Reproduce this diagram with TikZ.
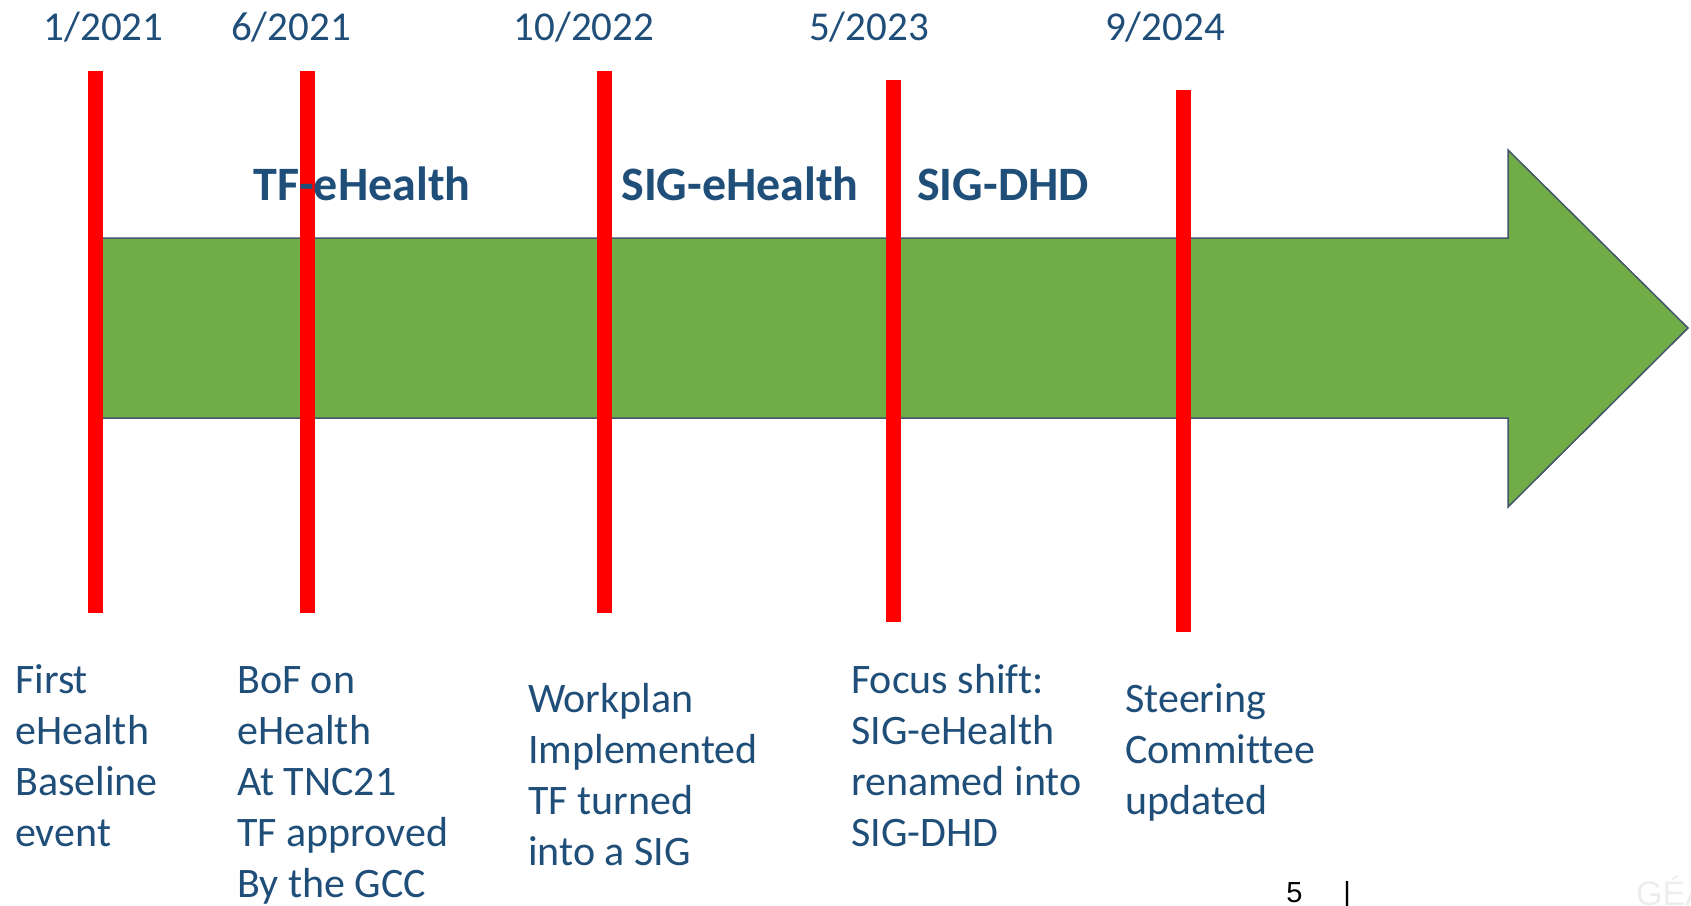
\documentclass[tikz,border=0pt]{standalone}
\usepackage{fontspec}
\setmainfont[Ligatures={NoCommon}]{Carlito}
\newfontfamily\arialfont{Liberation Sans}
\definecolor{txtblue}{HTML}{1F4E79}
\definecolor{arrgreen}{HTML}{70AD47}
\definecolor{arredge}{HTML}{44546A}
\definecolor{barred}{HTML}{FF0000}
\tikzset{
  datelabel/.style={anchor=base, inner sep=0pt, text=txtblue, font=\fontsize{41}{50}\selectfont},
  phaselabel/.style={anchor=base, inner sep=0pt, text=txtblue, font=\fontsize{48}{58}\selectfont\bfseries},
  eventtext/.style={anchor=base west, inner sep=0pt, align=left, text=txtblue, font=\fontsize{42}{51}\selectfont},
  redbar/.style={draw=none, fill=barred},
  bigarrow/.style={fill=arrgreen, draw=arredge, line width=1.5pt, line join=miter},
}
\begin{document}
\begin{tikzpicture}[x=1pt,y=-1pt]
\useasboundingbox (0,0) rectangle (1691,905);
% big arrow
\draw[bigarrow] (99,238) -- (1508,238) -- (1508,150) -- (1688,328) -- (1508,507) -- (1508,418) -- (99,418) -- cycle;
% red bars
\fill[redbar] (87.5,71) rectangle (102.5,613);
\fill[redbar] (299.5,71) rectangle (314.5,613);
\fill[redbar] (596.5,71) rectangle (611.5,613);
\fill[redbar] (885.5,80) rectangle (900.5,622);
\fill[redbar] (1175.5,90) rectangle (1190.5,632);
% dates
\node[datelabel] (d1) at (103.5,40) {1/2021};
\node[datelabel] (d2) at (291,40) {6/2021};
\node[datelabel] (d3) at (584,40) {10/2022};
\node[datelabel] (d4) at (869,40) {5/2023};
\node[datelabel] (d5) at (1165,40) {9/2024};
% phases
\node[phaselabel] (p1) at (362,200) {TF-eHealth};
\node[phaselabel] (p2) at (740,200) {SIG-eHealth};
\node[phaselabel] (p3) at (1003,200) {SIG-DHD};
% events (anchored at the baseline of the last line)
\node[eventtext] (e1) at (15,846) {First\\eHealth\\Baseline\\event};
\node[eventtext] (e2) at (237,897) {BoF on\\eHealth\\At TNC21\\TF approved\\By the GCC};
\node[eventtext] (e3) at (528,865) {Workplan\\Implemented\\TF turned\\into a SIG};
\node[eventtext] (e4) at (851,846) {Focus shift:\\SIG-eHealth\\renamed into\\SIG-DHD};
\node[eventtext] (e5) at (1125,814) {Steering\\Committee\\updated};
% page number
\node[anchor=base, inner sep=0pt, font=\arialfont\fontsize{29}{34}\selectfont] (pg) at (1294.5,902) {5};
\node[anchor=base, inner sep=0pt, font=\arialfont\fontsize{29}{34}\selectfont] (sep) at (1347,902) {|};
% faint logo
\node[anchor=base west, inner sep=0pt, text=black!7, font=\arialfont\fontsize{34}{40}\selectfont] (logo) at (1636,905) {GÉANT};
\end{tikzpicture}
\end{document}
